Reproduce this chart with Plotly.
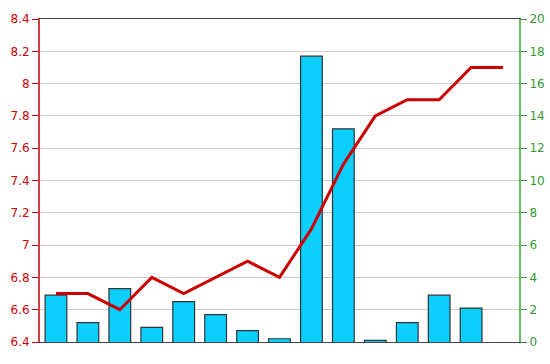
import plotly.graph_objects as go

categories = list(range(1, 16))
bar_values = [6.69, 6.52, 6.73, 6.49, 6.65, 6.57, 6.47, 6.42, 8.17, 7.72, 6.41, 6.52, 6.69, 6.61, None]
line_values = [3, 3, 2, 4, 3, 4, 5, 4, 7, 11, 14, 15, 15, 17, 17]

red = "#CC0000"
green = "#339933"
font_family = "DejaVu Sans"

fig = go.Figure()
fig.add_trace(go.Bar(
    x=categories, y=bar_values, yaxis="y",
    marker=dict(color="#0ACFFF", line=dict(color="#333333", width=1.2)),
    width=0.68, hoverinfo="skip",
))
fig.add_trace(go.Scatter(
    x=categories, y=line_values, yaxis="y2", mode="lines",
    line=dict(color=red, width=3), hoverinfo="skip",
))

fig.update_layout(
    width=550, height=364,
    margin=dict(l=40, r=31, t=19, b=22, autoexpand=False),
    paper_bgcolor="white", plot_bgcolor="white",
    showlegend=False,
    xaxis=dict(
        range=[0.5, 15.5], showticklabels=False, ticks="",
        showgrid=False, zeroline=False,
        showline=True, linecolor="#444444", linewidth=1, mirror=True,
    ),
    yaxis=dict(
        range=[6.4, 8.4], dtick=0.2, tick0=6.4, automargin=False,
        ticks="outside", ticklen=6, tickcolor=red, tickwidth=1,
        showline=True, linecolor="#D04040", linewidth=2,
        gridcolor="#CCCCCC", gridwidth=1, zeroline=False,
        tickfont=dict(family=font_family, size=12, color=red),
    ),
    yaxis2=dict(
        range=[0, 20], dtick=2, overlaying="y", side="right", automargin=False,
        ticks="outside", ticklen=6, tickcolor=green, tickwidth=1,
        showline=True, linecolor="#66BB66", linewidth=2,
        showgrid=False, zeroline=False,
        tickfont=dict(family=font_family, size=12, color=green),
    ),
)

fig.write_html("out.html")
